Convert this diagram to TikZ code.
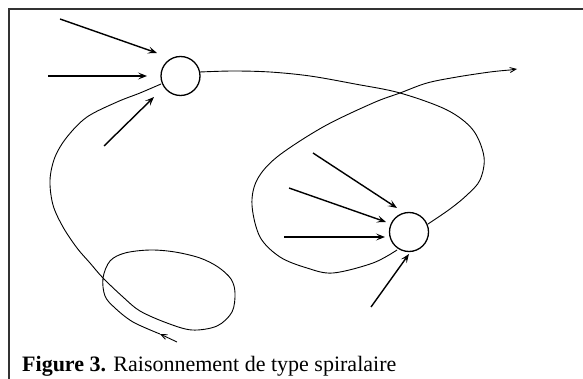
\documentclass[tikz,border=0pt]{standalone}
\usepackage{fontspec}
\setmainfont{Liberation Serif}
\usetikzlibrary{arrows.meta}
\begin{document}
\begin{tikzpicture}[x=1pt,y=-1pt,
  hub/.style={circle,draw,line width=1.3pt,minimum size=39pt,inner sep=0pt},
  feed/.style={line width=1.4pt,-{Stealth[length=9pt,width=7pt,inset=4pt]}},
  pathline/.style={line width=0.9pt},
  thintip/.style={line width=0.9pt,-{Straight Barb[length=6pt,width=5pt]}}
]
\useasboundingbox (0,0) rectangle (583,379);
\draw[line width=1.4pt, black!80] (9,379) -- (9,9) -- (583,9);
\node[hub] (c1) at (180.5,76) {};
\node[hub] (c2) at (409,232) {};
% arrows into circle 1
\coordinate (a1) at (60,19);   \coordinate (b1) at (157,53);
\coordinate (a2) at (48,76);   \coordinate (b2) at (147,76);
\coordinate (a3) at (104,146); \coordinate (b3) at (154,97);
\draw[feed] (a1) -- (b1);
\draw[feed] (a2) -- (b2);
\draw[feed] (a3) -- (b3);
% arrows into circle 2
\coordinate (a4) at (313,153); \coordinate (b4) at (397,208);
\coordinate (a5) at (289,188); \coordinate (b5) at (386,222);
\coordinate (a6) at (284,237); \coordinate (b6) at (385,237);
\coordinate (a7) at (371,307); \coordinate (b7) at (409,254);
\draw[feed] (a4) -- (b4);
\draw[feed] (a5) -- (b5);
\draw[feed] (a6) -- (b6);
\draw[feed] (a7) -- (b7);
% spiral start
\coordinate (s0) at (177,342);
\coordinate (s1) at (160,334);
\draw[thintip] (s0) -- (s1);
\draw[pathline] plot[smooth, tension=0.55] coordinates {
 (160,334) (133,322) (115,308) (105,296) (103,278) (110,261) (125,253)
 (150,250) (175,252) (200,258) (218,267) (231,279) (235,293) (232,312)
 (217,326) (192,330) (167,323) (140,311) (123,297) (103,278) (90,263)
 (77,248) (63,227) (53,205) (50,180) (55,157) (67,137) (87,117) (117,102)
 (140,93) (161,84)};
% curve from circle 1 to circle 2
\draw[pathline] plot[smooth, tension=0.55] coordinates {
 (200,72) (233,71) (270,72) (310,76) (355,84) (400,93) (447,110) (473,130)
 (484,157) (480,180) (467,195) (450,209) (428,224)};
% curve from circle 2 to exit
\coordinate (e) at (517,69);
\draw[pathline] plot[smooth, tension=0.55] coordinates {
 (397,250) (373,263) (333,273) (307,268) (280,257) (260,237) (252,205)
 (257,180) (277,157) (323,127) (373,103) (400,93) (427,83) (457,77) (490,72) (510,70)};
\draw[thintip] (510,70) -- (e);
\node[anchor=base west, inner sep=0pt, font=\fontsize{22}{24}\selectfont] (cap) at (22,371)
  {\textbf{Figure 3.} Raisonnement de type spiralaire};
\end{tikzpicture}
\end{document}
